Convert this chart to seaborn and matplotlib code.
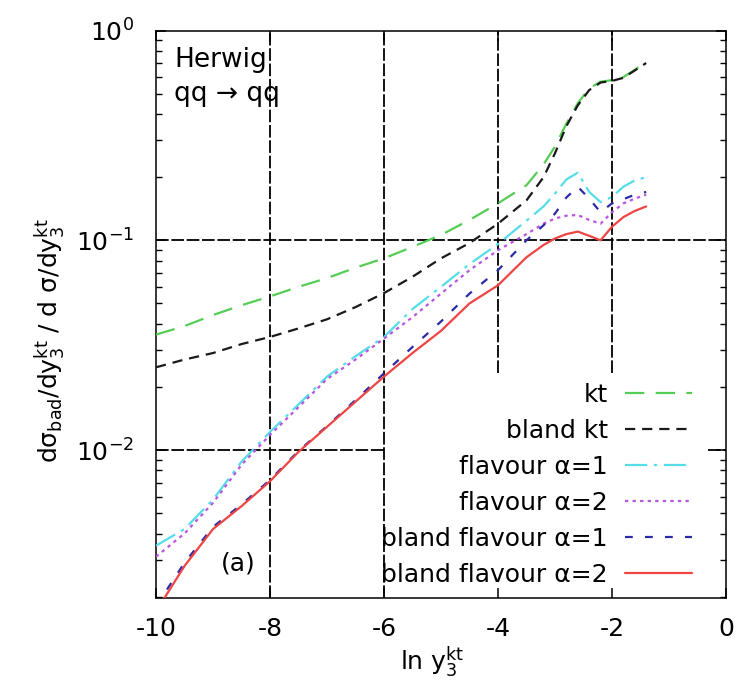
import matplotlib
matplotlib.use('Agg')
import matplotlib.pyplot as plt
import seaborn as sns
import numpy as np
from matplotlib.ticker import LogLocator, NullFormatter

# values
ln_y3 = [-10, -9.5, -9, -8.5, -8, -7.5, -7, -6.5, -6, -5.5, -5, -4.5, -4,
         -3.5, -3.2, -3, -2.8, -2.6, -2.4, -2.2, -2, -1.8, -1.6, -1.4]

kt = [0.0355, 0.039, 0.044, 0.049, 0.054, 0.060, 0.066, 0.074, 0.082, 0.093, 0.106, 0.125, 0.150,
      0.183, 0.23, 0.28, 0.36, 0.45, 0.53, 0.57, 0.58, 0.60, 0.65, 0.71]
bland_kt = [0.0248, 0.027, 0.029, 0.032, 0.0346, 0.038, 0.042, 0.048, 0.056, 0.067, 0.082, 0.097, 0.12,
            0.155, 0.20, 0.26, 0.35, 0.44, 0.52, 0.565, 0.575, 0.595, 0.645, 0.70]
flav1 = [0.0035, 0.0042, 0.0058, 0.0088, 0.0122, 0.0165, 0.0224, 0.028, 0.0346, 0.047, 0.060, 0.077, 0.096,
         0.124, 0.145, 0.167, 0.195, 0.21, 0.17, 0.152, 0.161, 0.18, 0.193, 0.20]
flav2 = [0.0031, 0.0040, 0.0056, 0.0085, 0.0118, 0.016, 0.0218, 0.027, 0.034, 0.043, 0.0557, 0.072, 0.0896,
         0.107, 0.12, 0.127, 0.131, 0.132, 0.125, 0.12, 0.136, 0.15, 0.158, 0.165]
bland_flav1 = [0.0018, 0.0029, 0.0043, 0.0055, 0.0072, 0.0099, 0.013, 0.0173, 0.0232, 0.031, 0.041, 0.0557, 0.072,
               0.10, 0.118, 0.134, 0.16, 0.18, 0.158, 0.136, 0.15, 0.157, 0.165, 0.17]
bland_flav2 = [0.0017, 0.0028, 0.0042, 0.0054, 0.0071, 0.0098, 0.0129, 0.017, 0.0224, 0.029, 0.037, 0.050, 0.061,
               0.083, 0.095, 0.102, 0.107, 0.11, 0.105, 0.100, 0.116, 0.129, 0.138, 0.145]

labels = ['kt', 'bland kt', 'flavour α=1', 'flavour α=2', 'bland flavour α=1', 'bland flavour α=2']
series = [kt, bland_kt, flav1, flav2, bland_flav1, bland_flav2]
colors = ['#55cc55', '#1a1a1a', '#55dde8', '#b855e0', '#2b2ba8', '#ee4444']
styles = [(0, (8.7, 5.1)), (0, (4.6, 3.1)), (0, (10, 3, 1.5, 3)), (0, (1.5, 1.9)), (0, (3.5, 5.5)), '-']

sns.set_style('ticks')
plt.rcParams['axes.unicode_minus'] = False
plt.rcParams['font.family'] = ['DejaVu Sans']
for key in ['text.color', 'axes.labelcolor', 'xtick.color', 'ytick.color', 'axes.edgecolor']:
    plt.rcParams[key] = 'black'

fig = plt.figure(figsize=(7.39, 6.92), dpi=100)
ax = fig.add_axes([0.2111, 0.1358, 0.7713, 0.8201])

# grid lines (the key hides part of them)
grid_kw = dict(color='black', lw=1.3, linestyle=(0, (7, 1.5)), zorder=1)
for xv in [-8, -6]:
    ax.axvline(xv, **grid_kw)
for xv in [-4, -2]:
    ax.axvline(xv, ymin=0.397, **grid_kw)
ax.axhline(0.1, **grid_kw)
ax.axhline(0.01, xmax=0.4, **grid_kw)
ax.axhline(0.01, xmin=0.968, **grid_kw)

for lab, vals, col, ls in zip(labels, series, colors, styles):
    sns.lineplot(x=ln_y3, y=vals, ax=ax, color=col, linestyle=ls, lw=1.6,
                 label=lab, estimator=None, sort=False, zorder=3)

ax.set_yscale('log')
ax.set_xlim(-10, 0)
ax.set_ylim(0.00197, 1)
ax.set_xticks([-10, -8, -6, -4, -2, 0])
ax.yaxis.set_minor_locator(LogLocator(base=10, subs=np.arange(2, 10)))
ax.yaxis.set_minor_formatter(NullFormatter())
ax.tick_params(which='both', direction='in', top=True, right=True, labelsize=18,
               color='black', labelcolor='black')
ax.tick_params(which='major', length=7.5, width=1.1)
ax.tick_params(which='minor', length=4.5, width=1.0)
ax.tick_params(axis='x', pad=14)
ax.tick_params(axis='y', pad=16)
for sp in ax.spines.values():
    sp.set_linewidth(1.1)
    sp.set_color('black')

ax.set_ylabel('dσ$_{\\mathrm{bad}}$/dy$_3^{\\mathrm{kt}}$ / d σ/dy$_3^{\\mathrm{kt}}$', fontsize=18)
ax.yaxis.label.set_va('center')
ax.yaxis.set_label_coords(-0.186, 0.453)
ax.set_xlabel('ln y$_3^{\\mathrm{kt}}$', fontsize=18)
ax.xaxis.label.set_va('center')
ax.xaxis.set_label_coords(0.484, -0.113)

ax.text(0.032, 0.935, 'Herwig', transform=ax.transAxes, fontsize=19, va='baseline')
ax.text(0.032, 0.875, 'qq → qq', transform=ax.transAxes, fontsize=19, va='baseline')
ax.text(0.114, 0.049, '(a)', transform=ax.transAxes, fontsize=18, va='baseline')

ax.legend(loc='lower right', bbox_to_anchor=(0.940, 0.02), frameon=False, markerfirst=False,
          fontsize=18, handlelength=2.68, handletextpad=0.68, labelspacing=0.48,
          borderpad=0, borderaxespad=0)

fig.savefig('out.png', dpi=100)
